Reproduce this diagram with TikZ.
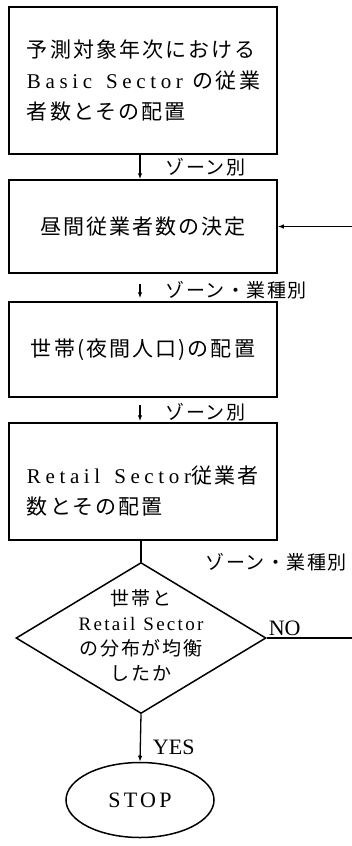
\documentclass[tikz,border=0pt]{standalone}
\usepackage{fontspec}
\setmainfont{Liberation Serif}
\newfontfamily\jp{Noto Sans CJK JP}[LetterSpace=10]
\newfontfamily\jpl{Noto Sans CJK JP}[LetterSpace=8]
\newfontfamily\lat{Liberation Serif}[LetterSpace=22]
\newfontfamily\latd{Liberation Serif}[LetterSpace=12]
\newfontfamily\lats{Liberation Serif}[LetterSpace=15]
\usetikzlibrary{shapes.geometric,arrows.meta}
\tikzset{
  box/.style={draw, line width=1.5pt, minimum width=268pt, text width=232pt,
    inner sep=0pt, font=\fontsize{21}{31}\selectfont},
  lab/.style={font=\jpl\fontsize{19}{20}\selectfont, anchor=west, inner sep=0pt},
  arr/.style={line width=1.3pt, -{Latex[length=6pt,width=4.5pt]}},
  conn/.style={line width=1.3pt},
  yn/.style={font=\fontsize{22}{24}\selectfont, inner sep=0pt}
}
\begin{document}
\begin{tikzpicture}[x=1pt,y=-1pt]
\useasboundingbox (0,0) rectangle (352,846);
% boxes
\node[box, minimum height=147pt, align=left] (box1) at (143,80.5)
  {{\jp 予測対象年次における}\\{\lat Basic\hspace{14pt}Sector}\hspace{10pt}{\jp の従業}\\{\jp 者数とその配置}};
\node[box, minimum height=93pt, align=center] (box2) at (143,226.5)
  {\jp 昼間従業者数の決定};
\node[box, minimum height=95pt, align=center] (box3) at (143,349.5)
  {\jp 世帯(夜間人口)の配置};
\node[box, minimum height=117pt, align=left] (box4) at (143,481.5)
  {\rule{0pt}{36pt}{\lat Retail\hspace{14pt}Sector}{\jp 従業者}\\{\jp 数とその配置}};
% decision
\node[diamond, draw, line width=1.5pt, minimum width=250pt, minimum height=151pt,
  inner sep=0pt, aspect=1.656] (dia) at (141,638) {};
\node[align=center, inner sep=0pt, font=\fontsize{19}{25}\selectfont] (dtext) at (141,635)
  {{\jp 世帯と}\\{\latd Retail\hspace{8pt}Sector}\\{\jp の分布が均衡}\\{\jp したか}};
% stop
\node[ellipse, draw, line width=1.5pt, minimum width=148pt, minimum height=75pt,
  inner sep=0pt, font=\lats\fontsize{22}{24}\selectfont] (stop) at (140,800) {STOP};
% free ends at the right margin
\coordinate (noend) at (352,638);
\coordinate (fbin) at (352,226.5);
% connectors
\draw[arr] ([xshift=-3pt]box1.south) -- node[lab, xshift=25pt] (l1) {ゾーン別} ([xshift=-3pt]box2.north);
\draw[arr, shorten <=10pt, shorten >=3pt] ([xshift=-3pt]box2.south) -- node[lab, xshift=25pt, yshift=-3pt] (l2) {ゾーン・業種別} ([xshift=-3pt]box3.north);
\draw[arr, shorten <=7pt, shorten >=1pt] ([xshift=-3pt]box3.south) -- node[lab, xshift=25pt, yshift=-2pt] (l3) {ゾーン別} ([xshift=-3pt]box4.north);
\draw[conn] (dia.north |- box4.south) -- node[lab, pos=1, xshift=64pt] (l4) {ゾーン・業種別} (dia.north);
\draw[arr] (dia.south) -- node[yn, pos=0.7, anchor=west, xshift=12pt] (yes) {YES} (stop.north);
\draw[conn] (dia.east) -- node[yn, pos=0.21, anchor=base, yshift=3pt] (no) {NO} (noend);
\draw[arr] (fbin) -- (box2.east);
\end{tikzpicture}
\end{document}
